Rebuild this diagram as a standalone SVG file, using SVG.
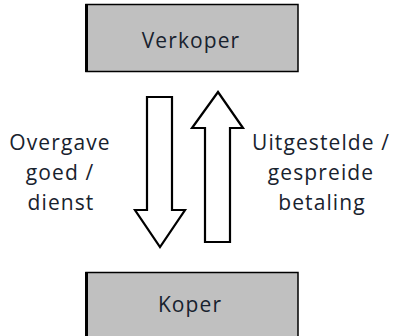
<svg xmlns="http://www.w3.org/2000/svg" width="397" height="336" viewBox="0 0 397 336">
  <style>
    .box { fill: #c0c0c0; stroke: #000; stroke-width: 1.5; }
    .edge { stroke: #000; stroke-width: 3; }
    .arrow { fill: #fff; stroke: #000; stroke-width: 2.2; stroke-linejoin: miter; }
    .lbl { font-family: "Open Sans", "Liberation Sans", sans-serif; font-size: 21px; font-weight: 500; fill: #18222e; text-anchor: middle; letter-spacing: 1.1px; }
  </style>
  <rect width="397" height="336" fill="#fff"/>

  <g id="verkoper">
    <rect class="box" x="86" y="4.5" width="212" height="67"/>
    <line class="edge" x1="86.5" y1="4" x2="86.5" y2="72"/>
    <text class="lbl" x="191" y="48">Verkoper</text>
  </g>

  <g id="koper">
    <rect class="box" x="86" y="272.5" width="212" height="70"/>
    <line class="edge" x1="86.5" y1="272" x2="86.5" y2="336"/>
    <text class="lbl" x="190" y="312">Koper</text>
  </g>

  <g id="connectors">
    <!-- delivery: seller to buyer -->
    <polygon class="arrow" points="147,97 172,97 172,210 185,210 160,247 135,210 147,210"/>
    <!-- payment: buyer to seller -->
    <polygon class="arrow" points="218,92 243,128 230,128 230,242 205,242 205,128 192,128"/>
  </g>

  <g id="label-levering">
    <text class="lbl" x="60" y="150">Overgave</text>
    <text class="lbl" x="60" y="180">goed /</text>
    <text class="lbl" x="61" y="210">dienst</text>
  </g>

  <g id="label-betaling">
    <text class="lbl" x="321" y="150">Uitgestelde /</text>
    <text class="lbl" x="321" y="180">gespreide</text>
    <text class="lbl" x="322" y="210">betaling</text>
  </g>
</svg>
